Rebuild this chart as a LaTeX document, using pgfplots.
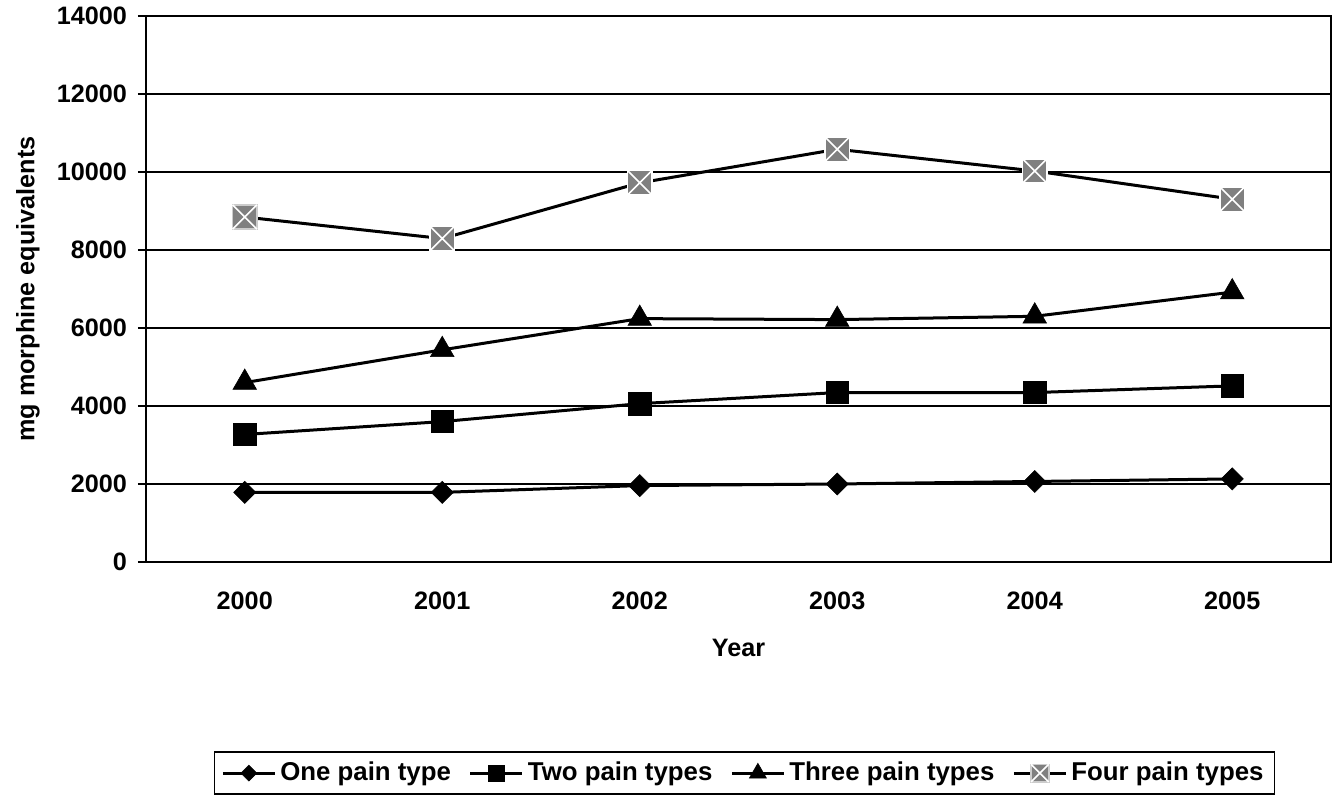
\documentclass[border=0pt]{standalone}
\usepackage{fontspec}
\setmainfont{Liberation Sans}
\usepackage{pgfplots}
\pgfplotsset{compat=1.18}
\pgfdeclareplotmark{boxx}{%
  \pgfpathrectangle{\pgfqpoint{-\pgfplotmarksize}{-\pgfplotmarksize}}{\pgfqpoint{2\pgfplotmarksize}{2\pgfplotmarksize}}%
  \pgfusepathqfillstroke
  \pgfsetstrokecolor{white}%
  \pgfpathmoveto{\pgfqpoint{-\pgfplotmarksize}{-\pgfplotmarksize}}%
  \pgfpathlineto{\pgfqpoint{\pgfplotmarksize}{\pgfplotmarksize}}%
  \pgfpathmoveto{\pgfqpoint{-\pgfplotmarksize}{\pgfplotmarksize}}%
  \pgfpathlineto{\pgfqpoint{\pgfplotmarksize}{-\pgfplotmarksize}}%
  \pgfusepathqstroke
}
\begin{document}
\begin{tikzpicture}
\useasboundingbox (-73pt,-117pt) rectangle (598pt,281pt);
\begin{axis}[
  at={(0,0)}, anchor=south west,
  scale only axis,
  width=592.5pt, height=273pt,
  xmin=-0.5, xmax=5.5,
  ymin=0, ymax=14000,
  ytick={0,2000,...,14000},
  xtick={0,...,5},
  xticklabels={2000,2001,2002,2003,2004,2005},
  minor xtick={-0.5,0.5,...,5.5},
  xtick style={draw=none},
  tick align=outside,
  tick pos=left,
  major tick length=4pt,
  minor tick length=4pt,
  every tick/.style={black, line width=0.8pt},
  minor x tick style={black, line width=0.8pt},
  axis line style={black, line width=0.9pt},
  ymajorgrids,
  grid style={black, line width=0.8pt},
  scaled y ticks=false,
  /pgf/number format/assume math mode=true,
  /pgf/number format/1000 sep={},
  tick label style={font=\bfseries\fontsize{12.6}{15}\selectfont},
  y tick label style={xshift=-2pt},
  x tick label style={anchor=center, yshift=-15.5pt},
  label style={font=\bfseries\fontsize{12.6}{15}\selectfont},
  xlabel={Year},
  ylabel={mg morphine equivalents},
  xlabel style={at={(axis description cs:0.5,-0.1575)}, anchor=center},
  ylabel style={at={(axis description cs:-0.0996,0.5)}, anchor=center},
  legend columns=4,
  legend style={at={(axis description cs:0.505,-0.347)}, anchor=north,
    draw=black, line width=0.8pt,
    font=\bfseries\fontsize{12.9}{15}\selectfont,
    inner xsep=3.5pt, inner ysep=3pt,
    /tikz/every even column/.append style={column sep=7pt}},
  legend image code/.code={%
    \draw[mark repeat=2,mark phase=2,#1,every mark/.append style={scale=0.72}] plot coordinates {(0pt,0pt) (13pt,0pt) (26pt,0pt)};},
  every axis plot/.append style={line width=1.5pt, black},
]
\addplot[mark=square*, mark size=3.9pt, mark options={rotate=45, line width=0.3pt, solid}]
  coordinates {(0,1785) (1,1785) (2,1960) (3,2000) (4,2065) (5,2130)};
\addlegendentry{One pain type}
\addplot[mark=square*, mark size=5.6pt, mark options={line width=0.3pt, solid}]
  coordinates {(0,3270) (1,3600) (2,4060) (3,4345) (4,4345) (5,4516)};
\addlegendentry{Two pain types}
\addplot[mark=triangle*, mark size=6.8pt, mark options={line width=0.3pt, solid}]
  coordinates {(0,4600) (1,5440) (2,6240) (3,6215) (4,6300) (5,6920)};
\addlegendentry{Three pain types}
\addplot[mark=boxx, mark size=6.1pt, mark options={fill=gray, draw=gray!40, line width=0.8pt, solid}]
  coordinates {(0,8845) (1,8293) (2,9722) (3,10583) (4,10026) (5,9304)};
\addlegendentry{Four pain types}
\end{axis}
\end{tikzpicture}
\end{document}
